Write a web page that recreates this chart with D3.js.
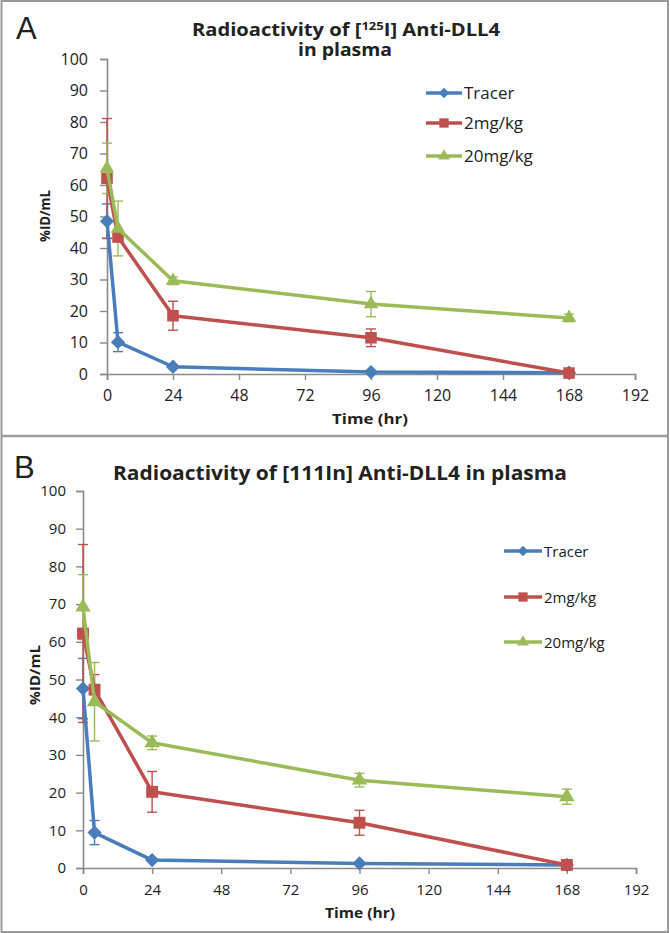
<!DOCTYPE html>
<html><head><meta charset="utf-8">
<script src="https://cdn.jsdelivr.net/npm/d3@7"></script>
<style>body{margin:0;background:#fff}svg{display:block}text{font-family:"Open Sans",sans-serif;fill:#222}</style>
</head><body>
<svg id="c" width="670" height="933"></svg>
<script>
// ---------- data ----------
const times = [0, 4, 24, 96, 168];
const xTicks = [0, 24, 48, 72, 96, 120, 144, 168, 192];
const yTicks = [0, 10, 20, 30, 40, 50, 60, 70, 80, 90, 100];
const seriesNames = ["Tracer", "2mg/kg", "20mg/kg"];
const seriesColors = ["#4A7EBB", "#C0504D", "#9BBB59"];
const seriesShapes = ["diamond", "square", "triangle"];

// Panel A (125I)
const tracerA = [48.5, 10.1, 2.3, 0.6, 0.4];
const tracerAErr = [5.5, 3.0, 0, 0, 0];
const mg2A = [62.1, 43.5, 18.5, 11.5, 0.3];
const mg2AErr = [19.0, 1.5, 4.6, 2.8, 0];
const mg20A = [65.3, 46.2, 29.6, 22.2, 17.8];
const mg20AErr = [8.0, 8.7, 1.2, 4.0, 1.2];

// Panel B (111In)
const tracerB = [47.6, 9.4, 2.1, 1.2, 0.8];
const tracerBErr = [8.0, 3.2, 0, 0, 0];
const mg2B = [62.2, 47.3, 20.2, 12.0, 0.8];
const mg2BErr = [23.6, 4.0, 5.4, 3.3, 0];
const mg20B = [69.2, 44.1, 33.2, 23.3, 18.9];
const mg20BErr = [8.6, 10.4, 1.8, 1.8, 2.0];

const svg = d3.select("#c");
// outer frame and separator
svg.append("rect").attr("x", 1.5).attr("y", 1).attr("width", 666.5).attr("height", 931)
  .attr("fill", "none").attr("stroke", "#9a9a9a").attr("stroke-width", 2);
svg.append("line").attr("x1", 1).attr("x2", 669).attr("y1", 436).attr("y2", 436)
  .attr("stroke", "#9a9a9a").attr("stroke-width", 2.5);

function shapePath(shape, s) {
  const type = shape === "diamond" ? d3.symbolDiamond2 : shape === "square" ? d3.symbolSquare2 : d3.symbolTriangle2;
  return d3.symbol().type(type).size(s)();
}

function drawPanel(cfg) {
  const g = svg.append("g");
  const x = d3.scaleLinear().domain([0, 192]).range(cfg.xr);
  const y = d3.scaleLinear().domain([0, 100]).range(cfg.yr);
  const axisColor = "#8a8a8a";

  // axes
  const ya = g.append("g").attr("transform", `translate(${cfg.xr[0]},0)`)
    .call(d3.axisLeft(y).tickValues(yTicks).tickSize(7).tickPadding(cfg.yPad));
  const xa = g.append("g").attr("transform", `translate(0,${cfg.yr[0]})`)
    .call(d3.axisBottom(x).tickValues(xTicks).tickSize(6).tickPadding(cfg.xPad));
  [ya, xa].forEach(a => {
    a.select(".domain").attr("stroke", axisColor).attr("stroke-width", 1.6);
    a.selectAll(".tick line").attr("stroke", axisColor).attr("stroke-width", 1.4);
    a.selectAll(".tick text").attr("fill", "#222").style("font-size", cfg.tickFont + "px")
      .style("font-family", '"Open Sans",sans-serif');
  });

  const data = [cfg.tracer, cfg.mg2, cfg.mg20];
  const errs = [cfg.tracerErr, cfg.mg2Err, cfg.mg20Err];
  const line = d3.line().x((d, i) => x(times[i])).y(d => y(d));

  data.forEach((vals, k) => {
    const col = seriesColors[k];
    const eg = g.append("g");
    vals.forEach((v, i) => {
      const e = errs[k][i];
      if (!e) return;
      const cx = x(times[i]);
      eg.append("line").attr("x1", cx).attr("x2", cx).attr("y1", y(v - e)).attr("y2", y(v + e))
        .attr("stroke", col).attr("stroke-width", 1.4);
      [v - e, v + e].forEach(b => eg.append("line").attr("x1", cx - 5).attr("x2", cx + 5)
        .attr("y1", y(b)).attr("y2", y(b)).attr("stroke", col).attr("stroke-width", 1.4));
    });
  });
  data.forEach((vals, k) => {
    const col = seriesColors[k];
    g.append("path").datum(vals).attr("d", line).attr("fill", "none")
      .attr("stroke", col).attr("stroke-width", 3.5).attr("stroke-linejoin", "round");
    g.selectAll(null).data(vals).join("path")
      .attr("d", shapePath(seriesShapes[k], cfg.markSize[k]))
      .attr("transform", (d, i) => `translate(${x(times[i])},${y(d)})`)
      .attr("fill", col);
  });

  // legend
  seriesNames.forEach((n, k) => {
    const ly = cfg.legY[k];
    const col = seriesColors[k];
    g.append("line").attr("x1", cfg.legX[0]).attr("x2", cfg.legX[1]).attr("y1", ly).attr("y2", ly)
      .attr("stroke", col).attr("stroke-width", 3.5);
    g.append("path").attr("d", shapePath(seriesShapes[k], cfg.legMark[k]))
      .attr("transform", `translate(${(cfg.legX[0] + cfg.legX[1]) / 2},${ly})`).attr("fill", col);
    g.append("text").attr("x", cfg.legX[1] + 2).attr("y", ly + 6).style("font-size", cfg.legFont + "px").text(n);
  });

  // axis titles
  g.append("text").attr("x", cfg.xTitle[0]).attr("y", cfg.xTitle[1]).attr("text-anchor", "middle")
    .attr("textLength", cfg.xTitleLen).attr("lengthAdjust", "spacingAndGlyphs")
    .style("font-size", cfg.axisFont + "px").style("font-weight", 700).text("Time (hr)");
  g.append("text").attr("transform", `translate(${cfg.yTitle[0]},${cfg.yTitle[1]}) rotate(-90)`)
    .attr("text-anchor", "middle").attr("textLength", cfg.yTitleLen).attr("lengthAdjust", "spacingAndGlyphs")
    .style("font-size", cfg.axisFont + "px").style("font-weight", 700).text("%ID/mL");

  // panel letter
  g.append("text").attr("x", cfg.letter[0]).attr("y", cfg.letter[1])
    .style("font-family", '"Liberation Sans",sans-serif').style("font-size", "31px").style("font-weight", 300)
    .text(cfg.letterText);
  return g;
}

const gA = drawPanel({
  xr: [107, 635], yr: [374, 59], tickFont: 16, yPad: 12, xPad: 10,
  tracer: tracerA, tracerErr: tracerAErr, mg2: mg2A, mg2Err: mg2AErr, mg20: mg20A, mg20Err: mg20AErr,
  markSize: [130, 170, 150], legMark: [70, 110, 100],
  legX: [426, 462], legY: [93, 123, 156], legFont: 17,
  xTitle: [370, 424], xTitleLen: 76, yTitle: [50, 216], yTitleLen: 52, axisFont: 14,
  letter: [16, 39], letterText: "A"
});
const tA = gA.append("text").attr("x", 346).attr("y", 36).attr("text-anchor", "middle")
  .attr("textLength", 308).attr("lengthAdjust", "spacingAndGlyphs")
  .style("font-size", "17px").style("font-weight", 700);
tA.append("tspan").text("Radioactivity of [");
tA.append("tspan").attr("dy", -6).style("font-size", "11px").text("125");
tA.append("tspan").attr("dy", 6).text("I] Anti-DLL4");
gA.append("text").attr("x", 345).attr("y", 56).attr("text-anchor", "middle")
  .attr("textLength", 94).attr("lengthAdjust", "spacingAndGlyphs")
  .style("font-size", "17px").style("font-weight", 700).text("in plasma");

const gB = drawPanel({
  xr: [83, 636], yr: [868, 491], tickFont: 15, yPad: 10, xPad: 10,
  tracer: tracerB, tracerErr: tracerBErr, mg2: mg2B, mg2Err: mg2BErr, mg20: mg20B, mg20Err: mg20BErr,
  markSize: [130, 180, 170], legMark: [70, 110, 100],
  legX: [504, 542], legY: [551, 597, 642], legFont: 15,
  xTitle: [360, 918], xTitleLen: 70, yTitle: [40, 675], yTitleLen: 60, axisFont: 14,
  letter: [14, 478], letterText: "B"
});
gB.append("text").attr("x", 340).attr("y", 480).attr("text-anchor", "middle")
  .attr("textLength", 454).attr("lengthAdjust", "spacingAndGlyphs")
  .style("font-size", "19px").style("font-weight", 700).text("Radioactivity of [111In] Anti-DLL4 in plasma");
</script>
</body></html>
